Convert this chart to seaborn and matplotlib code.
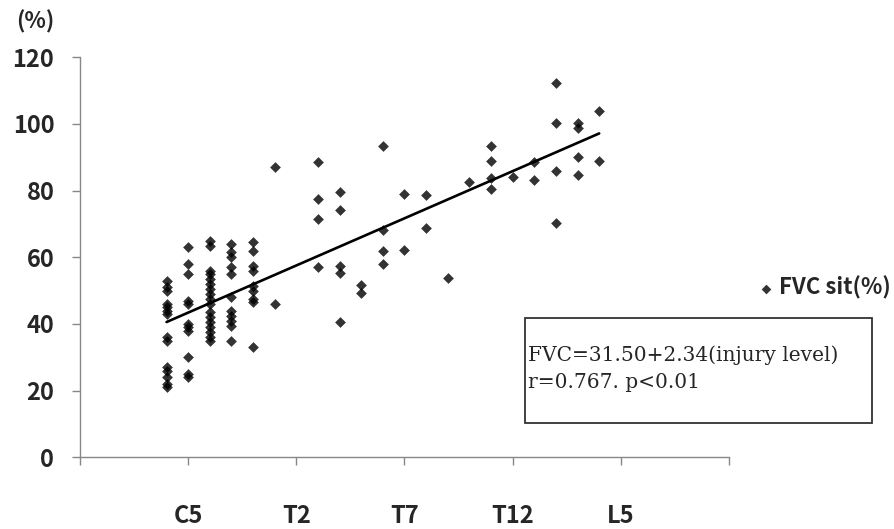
import numpy as np
import pandas as pd
import seaborn as sns
import matplotlib.pyplot as plt
from matplotlib.patches import Rectangle

# injury level coded 1..25 (C1-C8 = 1-8, T1-T12 = 9-20, L1-L5 = 21-25)
level = ([4] * 14 + [5] * 11 + [6] * 17 + [7] * 11 + [8] * 9 + [9] * 2 +
         [11] * 4 + [12] * 5 + [13] * 2 + [14] * 4 + [15] * 2 + [16] * 2 +
         [17] + [18] + [19] * 4 + [20] + [21] * 2 + [22] * 4 + [23] * 4 + [24] * 2)
fvc = [53, 51, 50, 46, 45, 44, 43, 36, 35, 27, 26, 24, 22, 21,             # C4
       63, 58, 55, 47, 46, 40, 39, 38, 30, 25, 24,                         # C5
       65, 63.5, 56, 55, 53.5, 52, 50.5, 49, 47.5, 46, 43.5, 42, 40.5,
       39, 37.5, 36, 35,                                                   # C6
       64, 61.5, 60, 57, 55, 48, 44, 42.5, 41, 39.5, 35,                   # C7
       64.5, 62, 57.5, 56, 51.5, 50, 47.5, 46.5, 33,                       # C8
       87, 46,                                                             # T1
       88.7, 77.5, 71.4, 57,                                               # T3
       79.7, 74.2, 57.4, 55.2, 40.6,                                       # T4
       51.7, 49.4,                                                         # T5
       93.4, 68.2, 61.9, 57.9,                                             # T6
       78.9, 62.2,                                                         # T7
       78.7, 68.9,                                                         # T8
       53.9,                                                               # T9
       82.5,                                                               # T10
       93.4, 89, 83.7, 80.4,                                               # T11
       84.2,                                                               # T12
       88.5, 83.2,                                                         # L1
       112.2, 100.4, 85.9, 70.4,                                           # L2
       100.2, 98.7, 90, 84.7,                                              # L3
       104, 89]                                                            # L4

tick_pos = [0, 5, 10, 15, 20, 25, 30]
tick_labels = ['', 'C5', 'T2', 'T7', 'T12', 'L5', '']
y_ticks = [0, 20, 40, 60, 80, 100, 120]

df = pd.DataFrame({'level': level, 'fvc': fvc})

sns.set_style('white')
plt.rcParams['font.family'] = ['Noto Sans CJK KR', 'DejaVu Sans']
axis_grey = '#888888'

fig = plt.figure(figsize=(8.95, 5.29), dpi=100)
ax = fig.add_axes([80 / 895, 1 - 457.3 / 529, 649 / 895, 400 / 529])

sns.regplot(data=df, x='level', y='fvc', ax=ax, ci=None, truncate=True, marker='D',
            label='FVC sit(%)',
            scatter_kws=dict(s=30, color='black', linewidths=0),
            line_kws=dict(color='black', lw=1.9))

ax.set_xlim(0, 30)
ax.set_ylim(0, 120)
ax.set_xticks(tick_pos)
ax.set_xticklabels(tick_labels, fontsize=17, fontweight='bold')
ax.set_yticks(y_ticks)
ax.set_yticklabels([str(v) for v in y_ticks], fontsize=17, fontweight='bold')
ax.set_xlabel('')
ax.set_ylabel('')
for side in ['top', 'right']:
    ax.spines[side].set_visible(False)
for side in ['left', 'bottom']:
    ax.spines[side].set_color(axis_grey)
    ax.spines[side].set_linewidth(1)
ax.tick_params(axis='x', direction='out', length=5.5, width=1, color=axis_grey, pad=28, bottom=True)
ax.tick_params(axis='y', direction='out', length=5.5, width=1, color=axis_grey, pad=13, left=True)

fig.text(35 / 895, 1 - 22 / 529, '(%)', fontsize=16, fontweight='bold', ha='center', va='center')

ax.legend(loc='center left', bbox_to_anchor=(735 / 895, 1 - 288 / 529), bbox_transform=fig.transFigure,
          frameon=False, prop=dict(weight='bold', size=16), handletextpad=0.1,
          handlelength=1, markerscale=0.9)

box = Rectangle((525 / 895, 1 - 423 / 529), 347 / 895, 105 / 529, transform=fig.transFigure,
                fill=False, edgecolor='#333333', lw=1.3)
fig.add_artist(box)
fig.text(528 / 895, 1 - 355 / 529, 'FVC=31.50+2.34(injury level)', family='DejaVu Serif',
         fontsize=14.5, ha='left', va='center')
fig.text(528 / 895, 1 - 382 / 529, 'r=0.767. p<0.01', family='DejaVu Serif',
         fontsize=14.5, ha='left', va='center')

fig.savefig('out.png', dpi=100)
